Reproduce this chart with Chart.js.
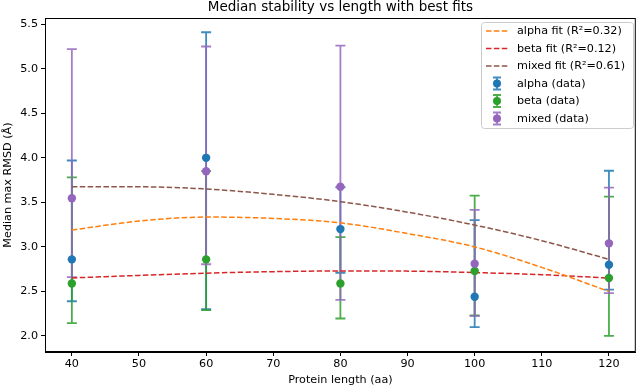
<!DOCTYPE html>
<html>
<head>
<meta charset="utf-8">
<script src="https://cdn.jsdelivr.net/npm/chart.js@4.4.1/dist/chart.umd.min.js"></script>
<style>
  html, body { margin: 0; padding: 0; background: #fff; }
  canvas { display: block; }
</style>
</head>
<body>
<canvas id="grafico" width="640" height="388"></canvas>
<script>
// dados (mediana + limites das barras de erro)
const comprimentos = [40, 60, 80, 100, 120];

const alphaMediana = [2.86, 4.00, 3.20, 2.44, 2.80];
const alphaInferior = [2.39, 2.30, 2.71, 2.10, 2.52];
const alphaSuperior = [3.97, 5.41, 3.67, 3.30, 3.855];

const betaMediana = [2.59, 2.86, 2.59, 2.73, 2.65];
const betaInferior = [2.145, 2.29, 2.196, 2.23, 2.00];
const betaSuperior = [3.78, 3.85, 3.11, 3.575, 3.565];

const mixedMediana = [3.546, 3.85, 3.676, 2.81, 3.04];
const mixedInferior = [2.66, 2.805, 2.405, 2.226, 2.48];
const mixedSuperior = [5.22, 5.25, 5.26, 3.415, 3.665];

// curvas de ajuste
const ajusteX = [40, 50, 60, 70, 80, 90, 100, 110, 120];
const alphaAjuste = [3.19, 3.29, 3.335, 3.32, 3.27, 3.15, 3.00, 2.77, 2.50];
const betaAjuste = [2.652, 2.68, 2.705, 2.722, 2.73, 2.728, 2.712, 2.688, 2.65];
const mixedAjuste = [3.676, 3.675, 3.65, 3.59, 3.508, 3.39, 3.245, 3.07, 2.86];

const ticksX = [40, 50, 60, 70, 80, 90, 100, 110, 120];
const ticksY = [2.0, 2.5, 3.0, 3.5, 4.0, 4.5, 5.0, 5.5];

const titulo = 'Median stability vs length with best fits';
const fonte = 'DejaVu Sans';

const cores = {
    azul: '#1f77b4', laranja: '#ff7f0e', verde: '#2ca02c',
    vermelho: '#d62728', roxo: '#9467bd', marrom: '#8c564b'
};

function pontos(xs, ys) {
    return xs.map((x, i) => ({ x: x, y: ys[i] }));
}

function linhaAjuste(rotulo, ys, cor) {
    return {
        type: 'line', label: rotulo, data: pontos(ajusteX, ys),
        borderColor: cor, borderWidth: 1.5, borderDash: [5.5, 2.4],
        pointRadius: 0, fill: false, cubicInterpolationMode: 'monotone',
        order: 5
    };
}

function serieDados(rotulo, ys, inf, sup, cor, ordem) {
    return {
        type: 'scatter', label: rotulo, data: pontos(comprimentos, ys),
        inferior: inf, superior: sup,
        backgroundColor: cor, borderColor: cor, pointRadius: 4.2, pointBorderWidth: 0,
        order: ordem
    };
}

const datasets = [
    linhaAjuste('alpha fit (R²=0.32)', alphaAjuste, cores.laranja),
    linhaAjuste('beta fit (R²=0.12)', betaAjuste, cores.vermelho),
    linhaAjuste('mixed fit (R²=0.61)', mixedAjuste, cores.marrom),
    serieDados('alpha (data)', alphaMediana, alphaInferior, alphaSuperior, cores.azul, 3),
    serieDados('beta (data)', betaMediana, betaInferior, betaSuperior, cores.verde, 2),
    serieDados('mixed (data)', mixedMediana, mixedInferior, mixedSuperior, cores.roxo, 1)
];

function comAlfa(hex, a) {
    const r = parseInt(hex.slice(1, 3), 16), g = parseInt(hex.slice(3, 5), 16), b = parseInt(hex.slice(5, 7), 16);
    return `rgba(${r},${g},${b},${a})`;
}

// barras de erro desenhadas antes das linhas e dos marcadores
const barrasErro = {
    id: 'barrasErro',
    beforeDatasetsDraw(chart) {
        const ctx = chart.ctx, sx = chart.scales.x, sy = chart.scales.y;
        ctx.save();
        chart.data.datasets.forEach(ds => {
            if (!ds.inferior) return;
            ctx.strokeStyle = comAlfa(ds.borderColor, 0.85);
            ctx.lineWidth = 1.8;
            ds.data.forEach((p, i) => {
                const x = sx.getPixelForValue(p.x);
                const y1 = sy.getPixelForValue(ds.inferior[i]);
                const y2 = sy.getPixelForValue(ds.superior[i]);
                ctx.beginPath();
                ctx.moveTo(x, y1); ctx.lineTo(x, y2);
                ctx.moveTo(x - 5, y1); ctx.lineTo(x + 5, y1);
                ctx.moveTo(x - 5, y2); ctx.lineTo(x + 5, y2);
                ctx.stroke();
            });
        });
        ctx.restore();
    }
};

// moldura, título e legenda no estilo matplotlib
const extras = {
    id: 'extras',
    afterDraw(chart) {
        const ctx = chart.ctx, a = chart.chartArea;
        ctx.save();
        ctx.strokeStyle = '#000';
        ctx.lineWidth = 1;
        ctx.strokeRect(a.left + 0.5, a.top + 0.5, a.right - a.left - 1, a.bottom - a.top - 1);

        ctx.fillStyle = '#000';
        ctx.font = `13.5px "${fonte}"`;
        ctx.textAlign = 'center';
        ctx.textBaseline = 'alphabetic';
        ctx.fillText(titulo, (a.left + a.right) / 2, 11);

        // legenda
        const lx = 481, ly = 22, lw = 152, lh = 106;
        ctx.beginPath();
        ctx.roundRect(lx + 0.5, ly + 0.5, lw, lh, 3);
        ctx.fillStyle = 'rgba(255,255,255,0.8)';
        ctx.fill();
        ctx.strokeStyle = '#cccccc';
        ctx.stroke();

        ctx.font = `11.2px "${fonte}"`;
        ctx.textAlign = 'left';
        ctx.textBaseline = 'middle';
        chart.data.datasets.forEach((ds, i) => {
            const y = 31 + i * 17.5;
            if (ds.type === 'line') {
                ctx.strokeStyle = ds.borderColor;
                ctx.lineWidth = 1.5;
                ctx.setLineDash([5.5, 2.4]);
                ctx.beginPath();
                ctx.moveTo(486, y); ctx.lineTo(508, y);
                ctx.stroke();
                ctx.setLineDash([]);
            } else {
                const cx = 497;
                ctx.strokeStyle = comAlfa(ds.borderColor, 0.85);
                ctx.lineWidth = 1.8;
                ctx.beginPath();
                ctx.moveTo(cx, y - 6); ctx.lineTo(cx, y + 6);
                ctx.moveTo(cx - 4, y - 6); ctx.lineTo(cx + 4, y - 6);
                ctx.moveTo(cx - 4, y + 6); ctx.lineTo(cx + 4, y + 6);
                ctx.stroke();
                ctx.fillStyle = ds.backgroundColor;
                ctx.beginPath();
                ctx.arc(cx, y, 4, 0, Math.PI * 2);
                ctx.fill();
            }
            ctx.fillStyle = '#000';
            ctx.fillText(ds.label, 517, y + 0.5);
        });
        ctx.restore();
    }
};

const fonteEixo = { family: fonte, size: 11.2 };

new Chart(document.getElementById('grafico').getContext('2d'), {
    data: { datasets: datasets },
    options: {
        responsive: false,
        animation: false,
        layout: { padding: { top: 18, right: 3, left: 0, bottom: 0 } },
        plugins: { legend: { display: false }, tooltip: { enabled: false } },
        scales: {
            x: {
                type: 'linear', min: 36, max: 124,
                afterBuildTicks: s => { s.ticks = ticksX.map(v => ({ value: v })); },
                afterFit: s => { s.height = 36; },
                ticks: { font: fonteEixo, color: '#000', padding: 1, maxRotation: 0,
                         callback: v => String(v) },
                grid: { drawOnChartArea: false, drawTicks: true, tickLength: 4, color: '#000' },
                border: { display: true, color: '#000' },
                title: { display: true, text: 'Protein length (aa)', font: fonteEixo, color: '#000',
                         padding: { top: 0, bottom: 1 } }
            },
            y: {
                type: 'linear', min: 1.82, max: 5.57,
                afterBuildTicks: s => { s.ticks = ticksY.map(v => ({ value: v })); },
                afterFit: s => { s.width = 45; },
                ticks: { font: fonteEixo, color: '#000', padding: 3,
                         callback: v => Number(v).toFixed(1) },
                grid: { drawOnChartArea: false, drawTicks: true, tickLength: 4, color: '#000' },
                border: { display: true, color: '#000' },
                title: { display: true, text: 'Median max RMSD (Å)', font: fonteEixo, color: '#000',
                         padding: { top: 1, bottom: 0 } }
            }
        }
    },
    plugins: [barrasErro, extras]
});
</script>
</body>
</html>
